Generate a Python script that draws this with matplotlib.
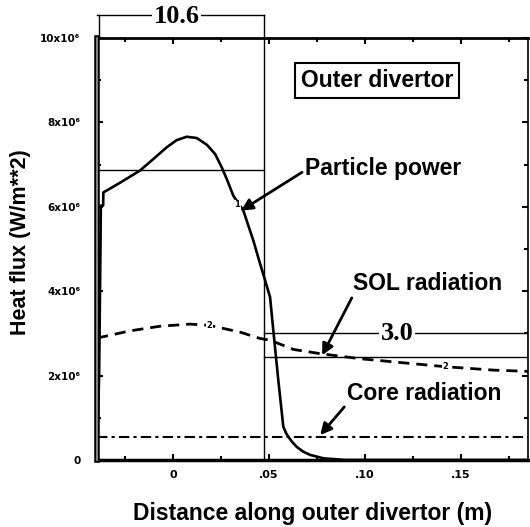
import matplotlib
matplotlib.use("Agg")
import matplotlib.pyplot as plt
from matplotlib.ticker import MultipleLocator, FixedLocator
import numpy as np

# --- dane (x w m, y w 1e6 W/m^2) ---
part_x = [-0.0395, -0.0385, -0.0378, -0.0376, -0.0364, -0.0363, -0.0276, -0.0172,
          -0.0103, -0.0033, 0.0019, 0.0071, 0.0123, 0.0176, 0.0219, 0.0254, 0.0283,
          0.0314, 0.0366, 0.0418, 0.0448, 0.0479, 0.0505, 0.0522, 0.0548, 0.0574,
          0.0588, 0.0600, 0.0620, 0.0644, 0.0677, 0.0714, 0.0783, 0.0896, 0.185]
part_y = [0.3, 2.0, 5.0, 6.03, 6.03, 6.34, 6.57, 6.86,
          7.13, 7.41, 7.58, 7.66, 7.63, 7.47, 7.25, 6.93, 6.62,
          6.26, 5.91, 5.20, 4.73, 4.26, 3.86, 3.07, 1.89, 0.79,
          0.64, 0.55, 0.43, 0.31, 0.20, 0.12, 0.04, 0.0, 0.0]

sol_x = [-0.0396, -0.0375, -0.0224, -0.0068, 0.0089, 0.019, 0.0349, 0.0453,
         0.0505, 0.0627, 0.0766, 0.0974, 0.123, 0.142, 0.1668, 0.185]
sol_y = [2.90, 2.91, 3.06, 3.17, 3.22, 3.19, 3.03, 2.88,
         2.84, 2.62, 2.52, 2.40, 2.29, 2.21, 2.13, 2.10]

core_level = 0.55

# srednie (prostokaty z etykietami)
avg1_x = [-0.0396, 0.0475]
avg1_y = 6.87
avg1_label = "10.6"
avg2_x = [0.0475, 0.1848]
avg2_y = [3.0, 2.44]
avg2_label = "3.0"

y_ticks = [0, 2, 4, 6, 8, 10]
y_labels = ["0", "2x10\u2076", "4x10\u2076", "6x10\u2076", "8x10\u2076", "10x10\u2076"]
x_ticks = [0.0, 0.05, 0.10, 0.15]
x_labels = ["0", ".05", ".10", ".15"]

# --- rysunek ---
fig = plt.figure(figsize=(5.30, 5.27), dpi=100)
ax = fig.add_axes([97/530, 1-460/527, (528-97)/530, (460-38)/527])
ax.set_xlim(-0.0396, 0.1848)
ax.set_ylim(0, 10)

ax.plot(part_x, part_y, color="black", lw=1.9, solid_joinstyle="round")
ax.plot(sol_x, sol_y, color="black", lw=2.0, dashes=(4, 2.5))
ax.axhline(core_level, color="black", lw=1.5, dashes=(5, 2, 1.5, 2))

# prostokat 10.6
ax.plot(avg1_x, [avg1_y, avg1_y], color="black", lw=1.0)
ax.plot([avg1_x[1], avg1_x[1]], [0, 10.55], color="black", lw=1.0, clip_on=False)
ax.plot([avg1_x[0] + 0.001, avg1_x[0] + 0.001], [10, 10.55], color="black", lw=1.0, clip_on=False)
ax.plot(avg1_x, [10.55, 10.55], color="black", lw=1.0, clip_on=False)
ax.text(np.mean(avg1_x) - 0.002, 10.52, avg1_label, ha="center", va="center",
        family="Liberation Serif", fontweight="bold", fontsize=19,
        bbox=dict(facecolor="white", edgecolor="none", pad=1), clip_on=False)

# prostokat 3.0
for yy in avg2_y:
    ax.plot(avg2_x, [yy, yy], color="black", lw=1.0)
ax.plot([avg2_x[1], avg2_x[1]], avg2_y, color="black", lw=1.0)
ax.text(0.1165, avg2_y[0], avg2_label, ha="center", va="center",
        family="Liberation Serif", fontweight="bold", fontsize=19,
        bbox=dict(facecolor="white", edgecolor="none", pad=1))

# znaczniki krzywych
for xx, yy, s in [(0.019, 3.19, "2"), (0.142, 2.21, "2"), (0.0334, 6.05, "1")]:
    ax.text(xx, yy, s, ha="center", va="center", fontsize=6, fontweight="bold",
            bbox=dict(facecolor="white", edgecolor="none", pad=0.3))

# opisy ze strzalkami
fnt = dict(fontsize=16.5, family="Liberation Sans", fontweight="bold", va="center")
arrow = dict(arrowstyle="-|>", lw=2, color="black", mutation_scale=17, shrinkA=0, shrinkB=0)
ax.text(0.1062, 9.0, "Outer divertor", ha="center",
        bbox=dict(facecolor="white", edgecolor="black", lw=1.5, pad=4.5), **fnt)
ax.annotate("Particle power", xy=(0.0354, 5.91), xytext=(0.0688, 6.90),
            arrowprops=dict(arrow, relpos=(-0.02, 0.35)), **fnt)
ax.annotate("SOL radiation", xy=(0.0776, 2.48), xytext=(0.0938, 4.18),
            arrowprops=dict(arrow, relpos=(0, 0)), **fnt)
ax.annotate("Core radiation", xy=(0.0766, 0.59), xytext=(0.0906, 1.58),
            arrowprops=dict(arrow, relpos=(0, 0.05)), **fnt)

# osie
ax.yaxis.set_major_locator(FixedLocator(y_ticks))
ax.set_yticklabels(y_labels, fontsize=7.5, fontweight="bold")
ax.yaxis.set_minor_locator(MultipleLocator(1))
ax.xaxis.set_major_locator(FixedLocator(x_ticks))
ax.set_xticklabels(x_labels, fontsize=8, fontweight="bold")
ax.xaxis.set_minor_locator(MultipleLocator(0.025))
ax.tick_params(which="both", direction="in", top=True, right=True, width=1.5)
ax.tick_params(which="major", length=4)
ax.tick_params(which="minor", length=3)
ax.tick_params(axis="y", pad=12)
ax.tick_params(axis="x", pad=7)

ax.spines["bottom"].set_linewidth(2.5)
ax.spines["top"].set_linewidth(2.0)
ax.spines["left"].set_linewidth(4.0)
ax.spines["right"].set_linewidth(1.2)
ax.plot([-0.0396, -0.0396], [0, 10], color="#999999", lw=1.2, clip_on=False, zorder=5)

ax.set_xlabel("Distance along outer divertor (m)", fontsize=16.5,
              family="Liberation Sans", fontweight="bold", labelpad=16)
ax.set_ylabel("Heat flux (W/m**2)", fontsize=15.5, family="Liberation Sans",
              fontweight="bold", labelpad=7)
ax.yaxis.set_label_coords(-0.152, 0.517)

fig.savefig("out.png", dpi=100)
